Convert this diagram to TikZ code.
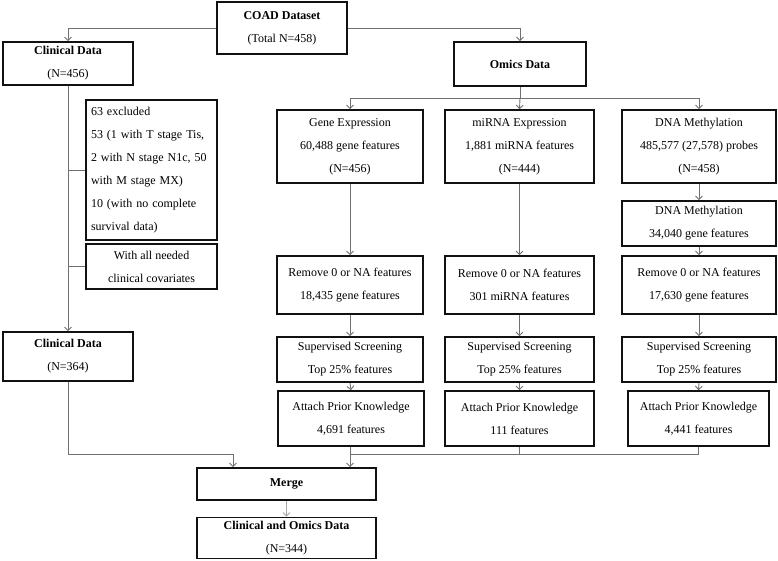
\documentclass[tikz,border=0pt]{standalone}
\usepackage{fontspec}
\setmainfont{Liberation Serif}
\usetikzlibrary{arrows.meta,positioning,calc}
\definecolor{Ink}{HTML}{111111}
\definecolor{Wire}{HTML}{707070}
\definecolor{Pale}{HTML}{A8A8A8}
\tikzset{
 box/.style={draw=Ink,line width=1.6pt,align=center,inner sep=0pt,font=\fontsize{12}{23}\selectfont},
 head/.style={box,font=\fontsize{12}{23}\selectfont\bfseries},
 note/.style={box,align=left,text width=121pt,inner sep=5pt},
 wire/.style={draw=Wire,line width=0.9pt},
 arr/.style={wire,-{Straight Barb[length=3.5pt,width=7pt]}},
 soft/.style={arr,draw=Pale}
}
\begin{document}
\begin{tikzpicture}[x=1pt,y=-1pt]
\useasboundingbox (0,0) rectangle (778,561);
% top level
\node[head,minimum width=130pt,minimum height=52pt] (coad) at (282,28) {COAD Dataset\\\mdseries (Total N=458)};
\node[head,minimum width=130pt,minimum height=43pt] (clin) at (68,63.5) {Clinical Data\\\mdseries (N=456)};
\node[head,minimum width=132pt,minimum height=44pt] (omics) at (520,64) {Omics Data};
% clinical branch
\node[note,minimum height=140pt] (excl) at (151.5,170) {63 excluded\\53 (1 with T stage Tis,\\2 with N stage N1c, 50\\with M stage MX)\\10 (with no complete\\survival data)};
\node[box,minimum width=131pt,minimum height=45pt] (covar) at (151.5,266.5) {With all needed\\clinical covariates};
\node[head,minimum width=130pt,minimum height=49pt] (clin2) at (68,356.5) {Clinical Data\\\mdseries (N=364)};
% omics columns
\node[box,minimum width=146pt,minimum height=73pt] (gene) at (350,146.5) {Gene Expression\\60,488 gene features\\(N=456)};
\node[box,minimum width=149pt,minimum height=73pt] (mirna) at (519.5,146.5) {miRNA Expression\\1,881 miRNA features\\(N=444)};
\node[box,minimum width=154pt,minimum height=73pt] (dna) at (699,146.5) {DNA Methylation\\485,577 (27,578) probes\\(N=458)};
\node[box,minimum width=154pt,minimum height=45pt] (dna2) at (699,223.5) {DNA Methylation\\34,040 gene features};
\node[box,minimum width=146pt,minimum height=58pt] (grem) at (350,285) {Remove 0 or NA features\\18,435 gene features};
\node[box,minimum width=149pt,minimum height=58pt] (mrem) at (519.5,285) {Remove 0 or NA features\\301 miRNA features};
\node[box,minimum width=154pt,minimum height=58pt] (drem) at (699,285) {Remove 0 or NA features\\17,630 gene features};
\foreach \c/\x/\w in {g/350/146,m/519.5/149,d/699/154}
 \node[box,minimum width=\w pt,minimum height=45pt] (\c sup) at (\x,359.5) {Supervised Screening\\Top 25\% features};
\node[box,minimum width=146pt,minimum height=55pt] (gatt) at (351,418.5) {Attach Prior Knowledge\\4,691 features};
\node[box,minimum width=149pt,minimum height=55pt] (matt) at (519.5,418.5) {Attach Prior Knowledge\\111 features};
\node[box,minimum width=141pt,minimum height=55pt] (datt) at (698.5,418.5) {Attach Prior Knowledge\\4,441 features};
% bottom
\node[head,minimum width=179pt,minimum height=32pt] (merge) at (286.5,484) {Merge};
\node[head,minimum width=179pt,minimum height=41pt] (final) at (286.5,538) {Clinical and Omics Data\\\mdseries (N=344)};
% connectors
\coordinate (ob) at (520,98);
\coordinate (mj) at (350,454);
\coordinate (cj) at (233,454);
\draw[arr] (coad.west) -| (clin.north);
\draw[arr] (coad.east) -| (omics.north);
\draw[arr] (clin.south) -- (clin2.north);
\draw[wire] (clin.south |- excl.west) -- (excl.west);
\draw[wire] (clin.south |- covar.west) -- (covar.west);
\draw[wire] (omics.south) -- (ob);
\draw[arr] (ob) -| (gene.north);
\draw[arr] (ob) -- (mirna.north);
\draw[arr] (ob) -| (dna.north);
\draw[arr] (gene.south) -- (grem.north);
\draw[arr] (mirna.south) -- (mrem.north);
\draw[arr] (dna.south) -- (dna2.north);
\draw[arr] (dna2.south) -- (drem.north);
\foreach \c in {g,m,d} {
 \draw[arr] (\c rem.south) -- (\c sup.north);
 \draw[arr] (\c sup.south) -- (\c att.north);
}
\draw[wire] (gatt.south -| mj) -- (mj);
\draw[wire] (matt.south) |- (mj);
\draw[wire] (datt.south) |- (mj);
\draw[arr] (mj) -- (mj |- merge.north);
\draw[arr] (clin2.south) |- (cj) -- (cj |- merge.north);
\draw[soft] (merge.south) -- (final.north);
\end{tikzpicture}
\end{document}
